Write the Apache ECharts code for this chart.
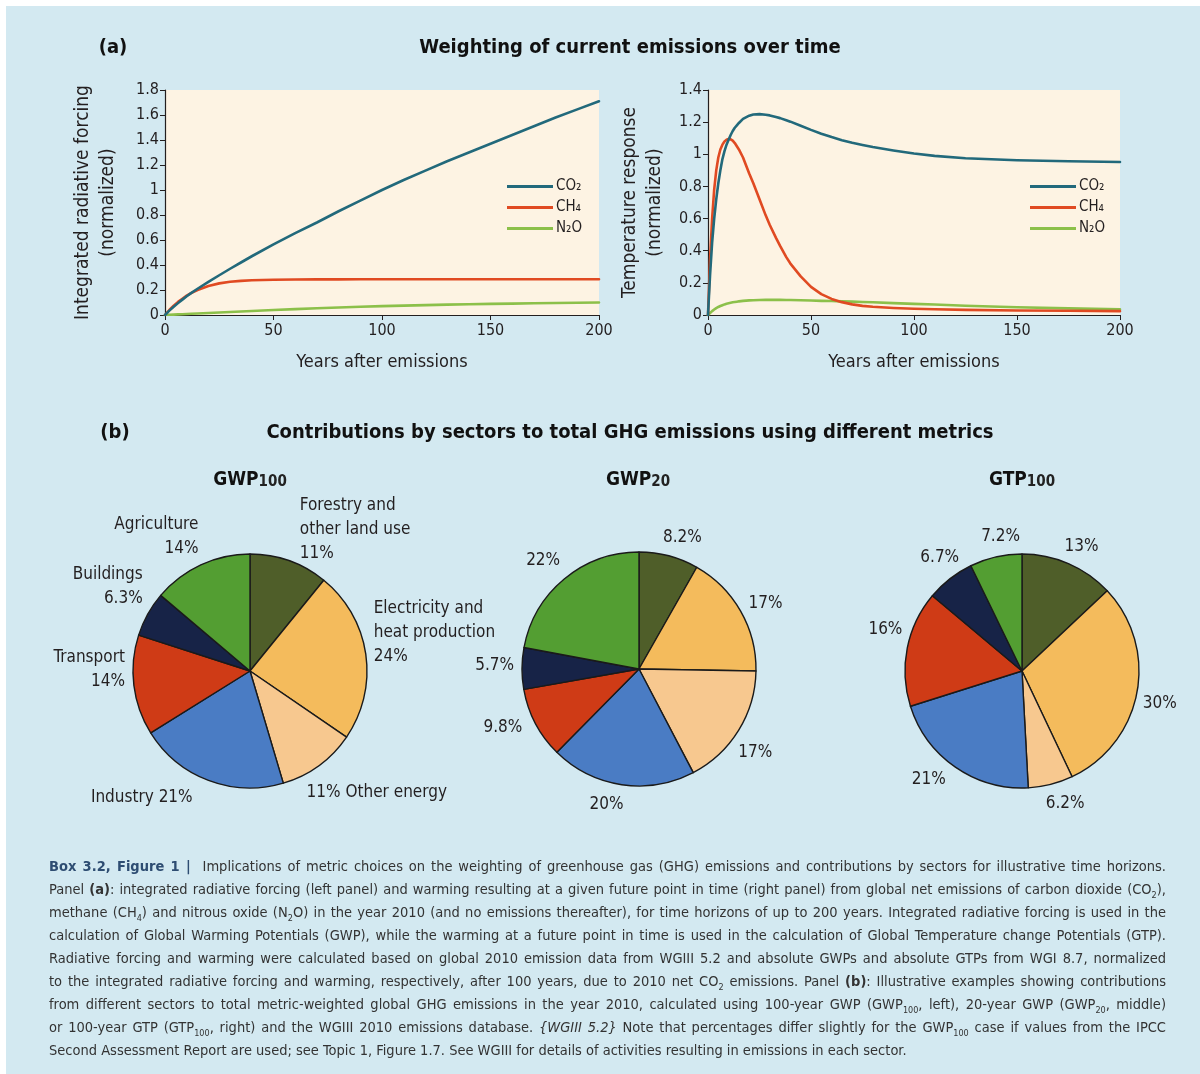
<!DOCTYPE html>
<html><head><meta charset="utf-8">
<script src="https://cdn.jsdelivr.net/npm/echarts@6/dist/echarts.min.js"></script>
<style>
html,body{margin:0;padding:0;background:#fff;}
#wrap{position:relative;width:1200px;height:1074px;overflow:hidden;}
#chart{position:absolute;left:0;top:0;width:1200px;height:1074px;}
#caption{position:absolute;left:49px;top:855px;width:1117px;font-family:"Liberation Sans Narrow","DejaVu Sans Condensed","Open Sans",sans-serif;font-size:14.5px;line-height:23px;color:#333;}
#caption div{white-space:nowrap;text-align:justify;text-align-last:justify;}
#caption div.last{text-align-last:left;}
#caption .box{font-weight:bold;color:#2e4d72;}
#caption sub{font-size:9px;line-height:0;}
</style></head>
<body>
<div id="wrap">
<div id="chart"></div>
<div id="caption">
<div><span class="box">Box 3.2, Figure 1 |</span>&nbsp; Implications of metric choices on the weighting of greenhouse gas (GHG) emissions and contributions by sectors for illustrative time horizons.</div>
<div>Panel <b>(a)</b>: integrated radiative forcing (left panel) and warming resulting at a given future point in time (right panel) from global net emissions of carbon dioxide (CO<sub>2</sub>),</div>
<div>methane (CH<sub>4</sub>) and nitrous oxide (N<sub>2</sub>O) in the year 2010 (and no emissions thereafter), for time horizons of up to 200 years. Integrated radiative forcing is used in the</div>
<div>calculation of Global Warming Potentials (GWP), while the warming at a future point in time is used in the calculation of Global Temperature change Potentials (GTP).</div>
<div>Radiative forcing and warming were calculated based on global 2010 emission data from WGIII 5.2 and absolute GWPs and absolute GTPs from WGI 8.7, normalized</div>
<div>to the integrated radiative forcing and warming, respectively, after 100 years, due to 2010 net CO<sub>2</sub> emissions. Panel <b>(b)</b>: Illustrative examples showing contributions</div>
<div>from different sectors to total metric-weighted global GHG emissions in the year 2010, calculated using 100-year GWP (GWP<sub>100</sub>, left), 20-year GWP (GWP<sub>20</sub>, middle)</div>
<div>or 100-year GTP (GTP<sub>100</sub>, right) and the WGIII 2010 emissions database. <i>{WGIII 5.2}</i> Note that percentages differ slightly for the GWP<sub>100</sub> case if values from the IPCC</div>
<div class="last">Second Assessment Report are used; see Topic 1, Figure 1.7. See WGIII for details of activities resulting in emissions in each sector.</div>
</div>
</div>
<script>
// ---------- data ----------
const gasNames = ['CO₂', 'CH₄', 'N₂O'];

const irfYears = [0, 2, 4, 6, 8, 10, 12, 15, 20, 25, 30, 35, 40, 50, 60, 70, 80, 90, 100, 110, 120, 130, 140, 150, 160, 170, 180, 190, 200];
const irfCO2   = [0, 0.035, 0.066, 0.095, 0.123, 0.15, 0.175, 0.21, 0.265, 0.318, 0.37, 0.42, 0.47, 0.565, 0.655, 0.74, 0.83, 0.915, 1.0, 1.08, 1.155, 1.23, 1.30, 1.37, 1.44, 1.51, 1.58, 1.645, 1.71];
const irfCH4   = [0, 0.04, 0.075, 0.105, 0.13, 0.155, 0.175, 0.2, 0.232, 0.253, 0.266, 0.273, 0.278, 0.282, 0.284, 0.285, 0.285, 0.286, 0.286, 0.286, 0.286, 0.286, 0.286, 0.286, 0.286, 0.286, 0.286, 0.286, 0.286];
const irfN2O   = [0, 0.0016, 0.0032, 0.0048, 0.0064, 0.008, 0.0096, 0.012, 0.016, 0.02, 0.024, 0.028, 0.032, 0.04, 0.047, 0.054, 0.06, 0.066, 0.071, 0.075, 0.079, 0.083, 0.086, 0.089, 0.091, 0.094, 0.096, 0.098, 0.1];

const tempYears = [0, 1, 2, 3, 4, 5, 6, 7, 8, 9, 10, 11, 12, 13, 14, 15, 17, 20, 22, 25, 28, 30, 33, 35, 38, 40, 45, 50, 55, 60, 65, 70, 75, 80, 90, 100, 110, 125, 150, 175, 200];
const tempCO2   = [0, 0.25, 0.45, 0.6, 0.72, 0.82, 0.9, 0.97, 1.02, 1.06, 1.09, 1.12, 1.145, 1.165, 1.18, 1.195, 1.22, 1.24, 1.248, 1.25, 1.246, 1.242, 1.232, 1.225, 1.212, 1.203, 1.178, 1.152, 1.128, 1.107, 1.088, 1.072, 1.058, 1.045, 1.024, 1.005, 0.99, 0.975, 0.963, 0.957, 0.952];
const tempCH4   = [0, 0.35, 0.6, 0.78, 0.9, 0.98, 1.03, 1.06, 1.08, 1.09, 1.095, 1.093, 1.085, 1.07, 1.05, 1.03, 0.98, 0.88, 0.82, 0.72, 0.62, 0.56, 0.48, 0.43, 0.36, 0.32, 0.24, 0.175, 0.13, 0.1, 0.08, 0.066, 0.057, 0.051, 0.044, 0.039, 0.036, 0.032, 0.028, 0.026, 0.024];
const tempN2O   = [0, 0.012, 0.024, 0.034, 0.043, 0.05, 0.056, 0.061, 0.066, 0.07, 0.073, 0.076, 0.079, 0.081, 0.083, 0.085, 0.088, 0.091, 0.092, 0.093, 0.094, 0.094, 0.094, 0.094, 0.093, 0.093, 0.092, 0.09, 0.088, 0.087, 0.085, 0.083, 0.081, 0.079, 0.074, 0.069, 0.065, 0.058, 0.048, 0.041, 0.035];

const yTicksIRF  = {min: 0, max: 1.8, interval: 0.2};
const yTicksTemp = {min: 0, max: 1.4, interval: 0.2};
const xTicks     = {min: 0, max: 200, interval: 50};

const sectors = ['Forestry and other land use', 'Electricity and heat production', 'Other energy', 'Industry', 'Transport', 'Buildings', 'Agriculture'];
const gwp100Values = [11, 24, 11, 21, 14, 6.3, 14];
const gwp20Values  = [8.2, 17, 17, 20, 9.8, 5.7, 22];
const gtp100Values = [13, 30, 6.2, 21, 16, 6.7, 7.2];

// ---------- style ----------
const FONT = '"Liberation Sans Narrow","DejaVu Sans Condensed","Open Sans",sans-serif';
const TXT = '#231f20';
const gasColors = ['#22697b', '#e04a22', '#8cc04a'];
const sectorColors = ['#4f5e29', '#f4bb5c', '#f7c88f', '#4a7cc4', '#cf3b16', '#172347', '#539e32'];
const gwp100LabelText = [
  'Forestry and\nother land use\n{v}%', 'Electricity and\nheat production\n{v}%', '{v}% Other energy',
  'Industry {v}%', 'Transport\n{v}%', 'Buildings\n{v}%', 'Agriculture\n{v}%'
];
const labelOffsets = [
  [[3, -24], [-5, -20], [-22, 21], [-8, 10], [4, -17], [7, -24], [6, -21]],
  [[-13, -11], [-4, -3], [-12, 18], [8, 12], [-1, 0], [5, -3], [6, -12]],
  [[-12, -10], [-7, 9], [-12, 11], [0, 6], [8, -17], [19, -15], [31, -13]]
];
const pieCenters = [[250, 671], [639, 669], [1022, 671]];

function pairs(xs, ys) { return xs.map((x, i) => [x, ys[i]]); }

function lineSeries(name, xs, ys, color, idx) {
  return {
    type: 'line', name: name, xAxisIndex: idx, yAxisIndex: idx,
    data: pairs(xs, ys), showSymbol: false, smooth: false,
    lineStyle: {color: color, width: 2.6, join: 'round', cap: 'round'}, itemStyle: {color: color}, z: 3
  };
}

function xAxisDef(idx) {
  return {
    type: 'value', gridIndex: idx, ...xTicks,
    name: 'Years after emissions', nameLocation: 'middle', nameGap: 38,
    nameTextStyle: {fontFamily: FONT, fontSize: 18, color: TXT},
    axisLine: {show: true, lineStyle: {color: '#231f20', width: 1.2}},
    axisTick: {show: true, length: 5, lineStyle: {color: '#231f20'}},
    axisLabel: {fontFamily: FONT, fontSize: 16, color: TXT, margin: 8},
    splitLine: {show: false}
  };
}
function yAxisDef(idx, ticks, name, gap) {
  return {
    type: 'value', gridIndex: idx, ...ticks,
    name: name, nameLocation: 'middle', nameGap: gap,
    nameTextStyle: {fontFamily: FONT, fontSize: 19, color: TXT, lineHeight: 25},
    axisLine: {show: true, lineStyle: {color: '#231f20', width: 1.2}},
    axisTick: {show: true, length: 5, lineStyle: {color: '#231f20'}},
    axisLabel: {fontFamily: FONT, fontSize: 16, color: TXT, margin: 6},
    splitLine: {show: false}
  };
}

function pieSeries(k, values) {
  return {
    type: 'pie', center: pieCenters[k], radius: 117, startAngle: 90, clockwise: true,
    avoidLabelOverlap: false,
    data: sectors.map((s, i) => ({name: s, value: values[i], itemStyle: {color: sectorColors[i]}})),
    itemStyle: {borderColor: '#1a1a1a', borderWidth: 1.4},
    label: {
      show: true, position: 'outside', fontFamily: FONT, fontSize: 17, color: TXT, lineHeight: 24,
      formatter: (p) => k === 0 ? gwp100LabelText[p.dataIndex].replace('{v}', p.value) : p.value + '%'
    },
    labelLine: {show: false, length: 8, length2: 0},
    labelLayout: (p) => ({dx: labelOffsets[k][p.dataIndex][0], dy: labelOffsets[k][p.dataIndex][1]}),
    emphasis: {disabled: true}, animation: false
  };
}

function legendDef(left) {
  return {
    left: left, top: 174, orient: 'vertical', data: gasNames,
    icon: 'rect', itemWidth: 46, itemHeight: 3, itemGap: 6,
    textStyle: {fontFamily: FONT, fontSize: 15, color: TXT, padding: [0, 0, 0, -2]},
    selectedMode: false
  };
}

function titleText(x, y, text) {
  return {type: 'text', x: x, y: y, style: {text: text, font: 'bold 20px ' + FONT, fill: '#111', align: 'center', verticalAlign: 'middle'}};
}
function pieTitle(x, y, main, sub) {
  return {type: 'text', x: x, y: y, style: {
    text: '{m|' + main + '}{s|' + sub + '}', align: 'center', verticalAlign: 'middle',
    rich: {m: {font: 'bold 19px ' + FONT, fill: '#111'}, s: {font: 'bold 15px ' + FONT, fill: '#222', padding: [4, 0, 0, 0]}}
  }};
}

const chart = echarts.init(document.getElementById('chart'));
chart.setOption({
  animation: false,
  backgroundColor: '#ffffff',
  graphic: [
    {type: 'rect', shape: {x: 6, y: 6, width: 1200, height: 1080}, style: {fill: '#d3e9f1'}, z: -10, silent: true},
    titleText(113, 48, '(a)'),
    titleText(630, 48, 'Weighting of current emissions over time'),
    titleText(115, 433, '(b)'),
    titleText(630, 433, 'Contributions by sectors to total GHG emissions using different metrics'),
    pieTitle(250, 480, 'GWP', '100'),
    pieTitle(638, 480, 'GWP', '20'),
    pieTitle(1022, 480, 'GTP', '100')
  ],
  grid: [
    {left: 165, top: 90, width: 434, height: 225, show: true, backgroundColor: '#fdf3e3', borderWidth: 0},
    {left: 708, top: 90, width: 412, height: 225, show: true, backgroundColor: '#fdf3e3', borderWidth: 0}
  ],
  xAxis: [xAxisDef(0), xAxisDef(1)],
  yAxis: [
    yAxisDef(0, yTicksIRF, 'Integrated radiative forcing\n(normalized)', 44),
    yAxisDef(1, yTicksTemp, 'Temperature response\n(normalized)', 40)
  ],
  legend: [legendDef(502), legendDef(1025)],
  series: [
    lineSeries(gasNames[2], irfYears, irfN2O, gasColors[2], 0),
    lineSeries(gasNames[1], irfYears, irfCH4, gasColors[1], 0),
    lineSeries(gasNames[0], irfYears, irfCO2, gasColors[0], 0),
    lineSeries(gasNames[2], tempYears, tempN2O, gasColors[2], 1),
    lineSeries(gasNames[1], tempYears, tempCH4, gasColors[1], 1),
    lineSeries(gasNames[0], tempYears, tempCO2, gasColors[0], 1),
    pieSeries(0, gwp100Values),
    pieSeries(1, gwp20Values),
    pieSeries(2, gtp100Values)
  ]
});
</script>
</body></html>
